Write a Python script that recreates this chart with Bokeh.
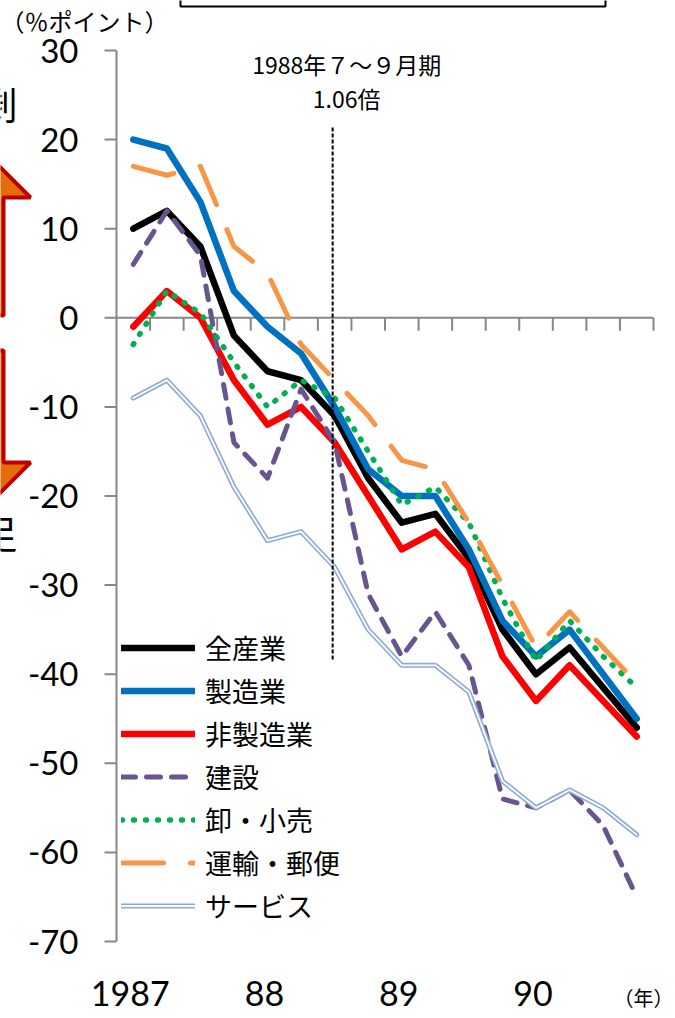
from bokeh.plotting import figure
from bokeh.models import Range1d, PolyAnnotation, Legend, LegendItem
from bokeh.core.properties import value
from bokeh.embed import file_html
from bokeh.resources import INLINE

# ---------------- data ----------------
quarters = ["1987Q1", "1987Q2", "1987Q3", "1987Q4",
            "1988Q1", "1988Q2", "1988Q3", "1988Q4",
            "1989Q1", "1989Q2", "1989Q3", "1989Q4",
            "1990Q1", "1990Q2", "1990Q3", "1990Q4"]
year_tick_idx = [0, 4, 8, 12]
year_labels = ["1987", "88", "89", "90"]
y_ticks = [-70, -60, -50, -40, -30, -20, -10, 0, 10, 20, 30]
y_tick_labels = ["-70", "-60", "-50", "-40", "-30", "-20", "-10", "0", "10", "20", "30"]

names = ["全産業", "製造業", "非製造業", "建設", "卸・小売", "運輸・郵便", "サービス"]
all_industries = [10, 12, 8, -2, -6, -7, -11, -18, -23, -22, -27, -35, -40, -37, -41.5, -46]
manufacturing = [20, 19, 13, 3, -1, -4, -10, -17, -20, -20, -26, -34, -38, -35, -40, -45]
non_manufacturing = [-1, 3, 0, -7, -12, -10, -14, -20, -26, -24, -28, -38, -43, -39, -43, -47]
construction = [6, 12, 7, -14, -18, -8, -14, -31, -38, -33, -39, -54, -55, -53, -57, -65]
wholesale_retail = [-3, 3, 0.5, -5, -10, -7, -9, -15, -21, -19, -23, -31.5, -38.5, -34, -38, -41.5]
transport_postal = [17, 16, 17, 8, 5, -3, -7, -11, -16, -17, -23, -30, -37, -33, -37, -41]
services = [-9, -7, -11, -19, -25, -24, -28, -35, -39, -39, -42, -52, -55, -53, -55, -58]

marker_quarter = "1988Q3"
marker_text = ["1988年７～９月期", "1.06倍"]
y_unit_text = "（％ポイント）"
x_unit_text = "（年）"

# ---------------- geometry (pixel helpers for decorations) ----------------
W, H = 675, 1018
PX_X = 33.5625   # pixels per quarter
PX_Y = 8.91      # pixels per %pt
AX_PX = 116      # pixel x of the value axis
Y30_PX = 50      # pixel y of the value 30

n = len(quarters)
xs = list(range(n))


def rx(px):
    return -0.5 + (px - AX_PX) / PX_X


def ry(py):
    return 30 - (py - Y30_PX) / PX_Y


JP = "Noto Sans CJK JP"
GRAY = "#878787"

p = figure(width=W, height=H, output_backend="svg", toolbar_location=None,
           x_range=Range1d(rx(0), rx(W)), y_range=Range1d(ry(H), ry(0)),
           x_axis_location=None, y_axis_location=None,
           min_border=0, min_border_left=0, min_border_right=0,
           min_border_top=0, min_border_bottom=0)
p.outline_line_color = None
p.background_fill_color = "white"
p.border_fill_color = "white"
p.xgrid.visible = False
p.ygrid.visible = False

# ---- value axis (left) ----
ax_x = xs[0] - 0.5
p.segment(x0=[ax_x], y0=[min(y_ticks)], x1=[ax_x], y1=[max(y_ticks)], line_color=GRAY, line_width=2)
p.segment(x0=[ax_x] * len(y_ticks), y0=y_ticks, x1=[ax_x - 12 / PX_X] * len(y_ticks), y1=y_ticks,
          line_color=GRAY, line_width=2)
p.text(x=[ax_x - 38 / PX_X] * len(y_ticks), y=y_ticks, text=y_tick_labels,
       text_font=value("Lato"), text_font_size="33px", text_color="black",
       text_align="right", text_baseline="middle")

# ---- zero line with category ticks ----
p.segment(x0=[xs[0] - 0.5], y0=[0], x1=[xs[-1] + 0.5], y1=[0], line_color=GRAY, line_width=2)
p.segment(x0=[i + 0.5 for i in xs], y0=[0] * n, x1=[i + 0.5 for i in xs], y1=[-13 / PX_Y] * n,
          line_color=GRAY, line_width=2)

# ---- series ----
r_all = p.line(xs, all_industries, line_color="black", line_width=6.5, line_join="round", line_cap="round")
r_mfg = p.line(xs, manufacturing, line_color="#0070C0", line_width=6.5, line_join="round", line_cap="round")
r_non = p.line(xs, non_manufacturing, line_color="#FF0000", line_width=6.5, line_join="round", line_cap="round")
r_con = p.line(xs, construction, line_color="#68558F", line_width=5, line_dash="14 11",
               line_join="round", line_cap="round")
r_ret = p.line(xs, wholesale_retail, line_color="#00B050", line_width=5.5, line_dash="1 11",
               line_join="round", line_cap="round")
r_tra = p.line(xs, transport_postal, line_color="#F79646", line_width=5, line_dash="42 27",
               line_join="round", line_cap="round")
r_srv_o = p.line(xs, services, line_color="#8EA9D3", line_width=5, line_join="round", line_cap="round")
r_srv_i = p.line(xs, services, line_color="white", line_width=1.8, line_join="round", line_cap="round")

# ---- vertical marker line and its note ----
mi = quarters.index(marker_quarter)
mx = mi - 2 / PX_X
p.segment(x0=[mx], y0=[ry(127)], x1=[mx], y1=[ry(659)],
          line_color="black", line_width=2, line_dash="4 2")
p.text(x=[mi, mi], y=[ry(63), ry(97)], text=marker_text, x_offset=12,
       text_font=value(JP), text_font_size="23px", text_color="black",
       text_align="center", text_baseline="middle")

# ---- category (year) labels ----
p.text(x=year_tick_idx, y=[ry(993)] * len(year_tick_idx), text=year_labels, x_offset=-3,
       text_font=value("Lato"), text_font_size="34px", text_color="black",
       text_align="center", text_baseline="middle")
p.text(x=[rx(673)], y=[ry(997)], text=[x_unit_text], text_font=value(JP), text_font_size="20px",
       text_color="black", text_align="right", text_baseline="middle")

# ---- unit label, side words and arrows (left margin, cut as in the source) ----
p.text(x=[rx(0)], y=[ry(20)], text=[y_unit_text], text_font=value(JP), text_font_size="24px",
       text_color="black", text_align="left", text_baseline="middle")
p.text(x=[rx(-21), rx(-21)], y=[ry(102), ry(531)], text=["剰", "足"], text_font=value(JP),
       text_font_size="38px", text_color="black", text_align="left", text_baseline="middle")
up_x = [-25, 30, 3, 3, -53, -53, -80]
up_y = [142, 197, 197, 315, 315, 197, 197]
dn_x = [3, 3, 30, -25, -80, -53, -53]
dn_y = [350, 462, 462, 517, 462, 462, 350]
for ax_, ay_ in ((up_x, up_y), (dn_x, dn_y)):
    p.add_layout(PolyAnnotation(xs=[rx(v) for v in ax_], ys=[ry(v) for v in ay_],
                                fill_color="#E46C0A", fill_alpha=1, line_color="#C00000",
                                line_width=4, line_alpha=1))

# ---- partial title box at the top ----
p.line(x=[rx(180), rx(180), rx(605), rx(605)], y=[ry(-10), ry(6), ry(6), ry(-10)],
       line_color="black", line_width=2)

# ---- legend ----
rends = [[r_all], [r_mfg], [r_non], [r_con], [r_ret], [r_tra], [r_srv_o, r_srv_i]]
legend = Legend(items=[LegendItem(label=nm, renderers=rr) for nm, rr in zip(names, rends)],
                location=(121, 91), glyph_width=74, glyph_height=43, label_height=43,
                label_standoff=10, spacing=0, padding=0, margin=0,
                border_line_alpha=0, background_fill_alpha=0,
                label_text_font=JP, label_text_font_size="27px", label_text_color="black")
p.add_layout(legend)

open("out.html", "w").write(file_html(p, INLINE))
